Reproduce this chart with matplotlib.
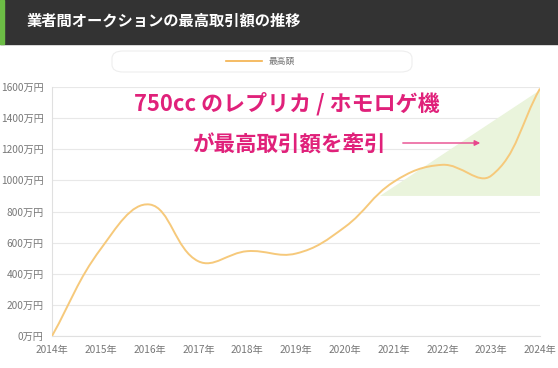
import numpy as np
import matplotlib.pyplot as plt
from matplotlib.path import Path
from matplotlib.patches import PathPatch, Polygon, FancyBboxPatch, Rectangle

plt.rcParams['font.family'] = ['Noto Sans CJK JP', 'DejaVu Sans']

title = "業者間オークションの最高取引額の推移"
series_name = "最高額"
years = [2014, 2015, 2016, 2017, 2018, 2019, 2020, 2021, 2022, 2023, 2024]
values = [0, 560, 845, 480, 545, 530, 700, 990, 1100, 1030, 1590]
yticks = [0, 200, 400, 600, 800, 1000, 1200, 1400, 1600]
note1 = "750cc のレプリカ / ホモロゲ機"
note2 = "が最高取引額を牽引"

line_color = '#f6c97b'
pink = '#e0217a'

fig = plt.figure(figsize=(5.58, 3.68), dpi=100)
W, H = 558, 368

# header bar
fig.patches.append(Rectangle((0, 1 - 44 / H), 1, 44 / H, transform=fig.transFigure,
                             color='#333333', zorder=0))
fig.patches.append(Rectangle((0, 1 - 44 / H), 4 / W, 44 / H, transform=fig.transFigure,
                             color='#6cbd45', zorder=1))
fig.text(27 / W, 1 - 21 / H, title, color='white', fontsize=11, fontweight='bold',
         va='center', ha='left')

# legend box
fig.patches.append(FancyBboxPatch((112 / W, 1 - 72 / H), 300 / W, 21 / H,
                                  boxstyle='round,pad=0,rounding_size=0.02',
                                  transform=fig.transFigure, fc='white', ec='#eeeeee', lw=0.8))
fig.add_artist(plt.Line2D([226 / W, 262 / W], [1 - 61 / H, 1 - 61 / H], color='#f3b04a', lw=1.2))
fig.text(269 / W, 1 - 61 / H, series_name, color='#777777', fontsize=6.3, va='center')

ax = fig.add_axes([52 / W, 1 - 336 / H, 488 / W, 249 / H])
ax.set_xlim(years[0], years[-1])
ax.set_ylim(0, 1600)

# smooth line (Chart.js style bezier, tension 0.4)
sx = 488 / 10
sy = 249 / 1600
px = np.array(years, float) * sx
py = np.array(values, float) * sy
t = 0.4
n = len(px)
cpa, cpb = [], []
for i in range(n):
    p0 = (px[max(i - 1, 0)], py[max(i - 1, 0)])
    p1 = (px[i], py[i])
    p2 = (px[min(i + 1, n - 1)], py[min(i + 1, n - 1)])
    d01 = np.hypot(p1[0] - p0[0], p1[1] - p0[1])
    d12 = np.hypot(p2[0] - p1[0], p2[1] - p1[1])
    s = d01 + d12 if d01 + d12 else 1
    fa, fb = t * d01 / s, t * d12 / s
    cpa.append((p1[0] - fa * (p2[0] - p0[0]), p1[1] - fa * (p2[1] - p0[1])))
    cpb.append((p1[0] + fb * (p2[0] - p0[0]), p1[1] + fb * (p2[1] - p0[1])))
verts = [(px[0], py[0])]
codes = [Path.MOVETO]
for i in range(n - 1):
    verts += [cpb[i], cpa[i + 1], (px[i + 1], py[i + 1])]
    codes += [Path.CURVE4] * 3
verts = [(x / sx, y / sy) for x, y in verts]
ax.add_patch(PathPatch(Path(verts, codes), fc='none', ec=line_color, lw=1.4, zorder=3))

# green highlight area
ax.add_patch(Polygon([(2020.72, 900), (2024, 1580), (2024, 900)], closed=True,
                     fc='#eaf4dc', ec='none', zorder=1))

ax.set_yticks(yticks)
ax.set_yticklabels([f"{v}万円" for v in yticks])
ax.set_xticks(years)
ax.set_xticklabels([f"{y}年" for y in years])
ax.tick_params(length=0, labelsize=7.3, colors='#777777')
ax.tick_params(axis='y', pad=6)
ax.tick_params(axis='x', pad=6.5)
ax.grid(axis='y', color='#e8e8e8', lw=0.8, zorder=0)
for side in ['top', 'right']:
    ax.spines[side].set_visible(False)
for side in ['left', 'bottom']:
    ax.spines[side].set_color('#e0e0e0')
    ax.spines[side].set_linewidth(0.8)
ax.set_axisbelow(True)

fig.text(287 / W, 1 - 104 / H, note1, color=pink, fontsize=15.8, fontweight='bold',
         ha='center', va='center')
fig.text(290 / W, 1 - 145 / H, note2, color=pink, fontsize=15.5, fontweight='bold',
         ha='center', va='center')
ax.annotate('', xy=(483, H - 143), xytext=(400, H - 143), xycoords='figure pixels',
            textcoords='figure pixels',
            arrowprops=dict(arrowstyle='-|>', color='#e8468c', lw=1, mutation_scale=8))

fig.savefig('out.png', dpi=100)
